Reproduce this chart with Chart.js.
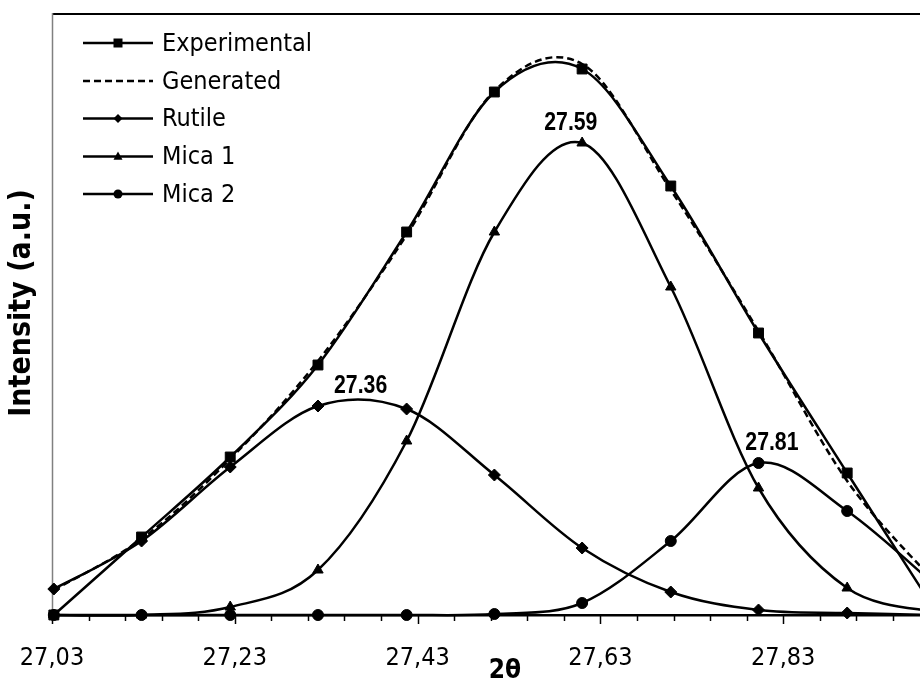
<!DOCTYPE html>
<html>
<head>
<meta charset="utf-8">
<script src="https://cdn.jsdelivr.net/npm/chart.js@4/dist/chart.umd.min.js"></script>
<style>
  html, body { margin: 0; padding: 0; background: #fff; overflow: hidden; }
  #wrap { width: 920px; height: 686px; position: relative; }
</style>
</head>
<body>
<div id="wrap"><canvas id="c" width="920" height="686"></canvas></div>
<script>
// 2θ positions of the measured points (degrees)
const twoTheta = [27.032, 27.128, 27.225, 27.321, 27.418, 27.514, 27.610, 27.707, 27.803, 27.900, 27.996];
// Intensities (a.u.)
const experimental = [0, 78, 158, 250, 383, 523, 546, 429, 282, 142, 5];
const generated    = [25, 76, 156, 254, 380, 524, 551, 425, 284, 134, 33];
const rutile       = [26, 74, 148, 209, 206, 140, 67, 23, 5, 2, 0];
const mica1        = [0, 0, 8, 45, 174, 383, 472, 328, 127, 27, 3];
const mica2        = [0, 0, 0, 0, 0, 1, 12, 74, 152, 104, 30];

// Fitted peak centres of the three components
const peakPositions = [27.36, 27.59, 27.81];
const peakSeries    = ['Rutile', 'Mica 1', 'Mica 2'];

// Axis ticks
const xTickValues = [27.03, 27.23, 27.43, 27.63, 27.83];
const xTickLabels = ['27,03', '27,23', '27,43', '27,63', '27,83'];
const xMinorStep = 0.04;

const FONT = "'DejaVu Sans Condensed', 'DejaVu Sans', sans-serif";
const LABEL_FONT = "'Liberation Sans', Arial, sans-serif";

const seriesDefs = [
  { label: 'Experimental', data: experimental, style: 'rect',     radius: 7,   dash: [] },
  { label: 'Generated',    data: generated,    style: false,      radius: 0,   dash: [7, 4] },
  { label: 'Rutile',       data: rutile,       style: 'rectRot',  radius: 6,   dash: [] },
  { label: 'Mica 1',       data: mica1,        style: 'triangle', radius: 6,   dash: [] },
  { label: 'Mica 2',       data: mica2,        style: 'circle',   radius: 5.5, dash: [] }
];

const datasets = seriesDefs.map((s, i) => ({
  label: s.label,
  data: twoTheta.map((x, k) => ({ x: x, y: s.data[k] })),
  borderColor: '#000',
  backgroundColor: '#000',
  borderWidth: 2.5,
  borderDash: s.dash,
  pointStyle: s.style,
  pointRadius: s.radius,
  pointBackgroundColor: '#000',
  pointBorderColor: '#000',
  pointBorderWidth: 1,
  tension: 0.4,
  clip: false,
  order: seriesDefs.length - i
}));

// Smooth the curves with a uniform Catmull-Rom spline (control arms = 1/6 of the chord
// between the neighbouring points), as spreadsheet "smoothed line" charts do.
const uniformSpline = {
  id: 'uniformSpline',
  afterDatasetsUpdate(chart) {
    chart.getSortedVisibleDatasetMetas().forEach(meta => {
      const pts = meta.data;
      const n = pts.length;
      for (let i = 0; i < n; i++) {
        const p = pts[i];
        const a = pts[Math.max(i - 1, 0)];
        const b = pts[Math.min(i + 1, n - 1)];
        const dx = (b.x - a.x) / 6, dy = (b.y - a.y) / 6;
        p.cp1x = p.x - dx; p.cp1y = p.y - dy;
        p.cp2x = p.x + dx; p.cp2y = p.y + dy;
      }
      if (meta.dataset) meta.dataset._pointsUpdated = true;
    });
  }
};

function drawMarker(ctx, style, x, y, r) {
  ctx.beginPath();
  if (style === 'rect') {
    ctx.rect(x - r, y - r, 2 * r, 2 * r);
  } else if (style === 'rectRot') {
    ctx.moveTo(x - r, y); ctx.lineTo(x, y - r); ctx.lineTo(x + r, y); ctx.lineTo(x, y + r); ctx.closePath();
  } else if (style === 'triangle') {
    ctx.moveTo(x, y - r * 1.1); ctx.lineTo(x + r, y + r * 0.7); ctx.lineTo(x - r, y + r * 0.7); ctx.closePath();
  } else if (style === 'circle') {
    ctx.arc(x, y, r, 0, Math.PI * 2);
  } else {
    return;
  }
  ctx.fillStyle = '#000';
  ctx.fill();
}

const frame = {
  id: 'frame',
  beforeDatasetsDraw(chart) {
    const { ctx, chartArea: a } = chart;
    ctx.save();
    // plot border: top and left edges
    ctx.strokeStyle = '#000';
    ctx.lineWidth = 2;
    ctx.beginPath(); ctx.moveTo(a.left, a.top + 1); ctx.lineTo(a.right, a.top + 1); ctx.stroke();
    ctx.strokeStyle = '#808080';
    ctx.lineWidth = 1.5;
    ctx.beginPath(); ctx.moveTo(a.left + 0.5, a.top); ctx.lineTo(a.left + 0.5, a.bottom); ctx.stroke();
    // major and minor tick marks on the 2θ axis
    const xs = chart.scales.x;
    ctx.strokeStyle = '#000';
    ctx.lineWidth = 1.5;
    xs.ticks.forEach(t => {
      const major = xTickValues.some(v => Math.abs(v - t.value) < 1e-6);
      const px = Math.round(xs.getPixelForValue(t.value)) + 0.5;
      ctx.beginPath();
      ctx.moveTo(px, a.bottom);
      ctx.lineTo(px, a.bottom + (major ? 9 : 6));
      ctx.stroke();
    });
    ctx.restore();
  },
  afterDraw(chart) {
    const { ctx } = chart;
    const xs = chart.scales.x, ys = chart.scales.y;
    ctx.save();

    // peak centre labels (narrow bold)
    ctx.fillStyle = '#000';
    ctx.font = 'bold 25px ' + LABEL_FONT;
    ctx.textAlign = 'center';
    ctx.textBaseline = 'middle';
    peakPositions.forEach((p, i) => {
      const def = seriesDefs.find(s => s.label === peakSeries[i]);
      const top = Math.max.apply(null, def.data);
      const px = xs.getPixelForValue(p) + 7;
      const py = ys.getPixelForValue(top) - 20;
      ctx.save();
      ctx.translate(px, py);
      ctx.scale(0.85, 1);
      ctx.fillText(p.toFixed(2), 0, 0);
      ctx.restore();
    });

    // legend
    const rows = [43, 81, 118.5, 156.5, 194];
    ctx.font = '25px ' + FONT;
    ctx.textAlign = 'left';
    ctx.textBaseline = 'middle';
    seriesDefs.forEach((s, i) => {
      const y = rows[i];
      ctx.strokeStyle = '#000';
      ctx.lineWidth = 2.5;
      ctx.setLineDash(s.dash);
      ctx.beginPath(); ctx.moveTo(83, y); ctx.lineTo(153, y); ctx.stroke();
      ctx.setLineDash([]);
      if (s.style) drawMarker(ctx, s.style, 118, y, 4.5);
      ctx.fillStyle = '#000';
      ctx.fillText(s.label, 162, y + 1);
    });

    // axis titles
    ctx.fillStyle = '#000';
    ctx.font = 'bold 26px ' + FONT;
    ctx.textAlign = 'center';
    ctx.textBaseline = 'middle';
    ctx.fillText('2θ', 505, 671);
    ctx.font = 'bold 30px ' + FONT;
    ctx.translate(22, 303);
    ctx.rotate(-Math.PI / 2);
    ctx.fillText('Intensity (a.u.)', 0, 0);
    ctx.restore();
  }
};

new Chart(document.getElementById('c'), {
  type: 'line',
  data: { datasets: datasets },
  options: {
    responsive: false,
    animation: false,
    devicePixelRatio: 1,
    layout: { autoPadding: false, padding: { left: 52, top: 13, right: 0, bottom: 0 } },
    plugins: { legend: { display: false }, tooltip: { enabled: false } },
    scales: {
      x: {
        type: 'linear',
        min: xTickValues[0],
        max: xTickValues[0] + 868 / 914,
        afterBuildTicks(scale) {
          const ticks = [];
          for (let v = scale.min; v <= scale.max + 1e-9; v += xMinorStep) {
            ticks.push({ value: Math.round(v * 1000) / 1000 });
          }
          scale.ticks = ticks;
        },
        afterFit(scale) {
          scale.height = 71;
          scale.paddingRight = 0;
        },
        grid: { display: true, drawOnChartArea: false, drawTicks: true, tickLength: 9, tickColor: 'rgba(0,0,0,0)' },
        border: { display: true, color: '#000', width: 2.5 },
        ticks: {
          autoSkip: false,
          maxRotation: 0,
          padding: 19,
          color: '#000',
          font: { family: FONT, size: 25 },
          callback(value) {
            const i = xTickValues.findIndex(v => Math.abs(v - value) < 1e-6);
            return i >= 0 ? xTickLabels[i] : '';
          }
        }
      },
      y: { display: false, min: 0, max: 602 }
    }
  },
  plugins: [uniformSpline, frame]
});
</script>
</body>
</html>
